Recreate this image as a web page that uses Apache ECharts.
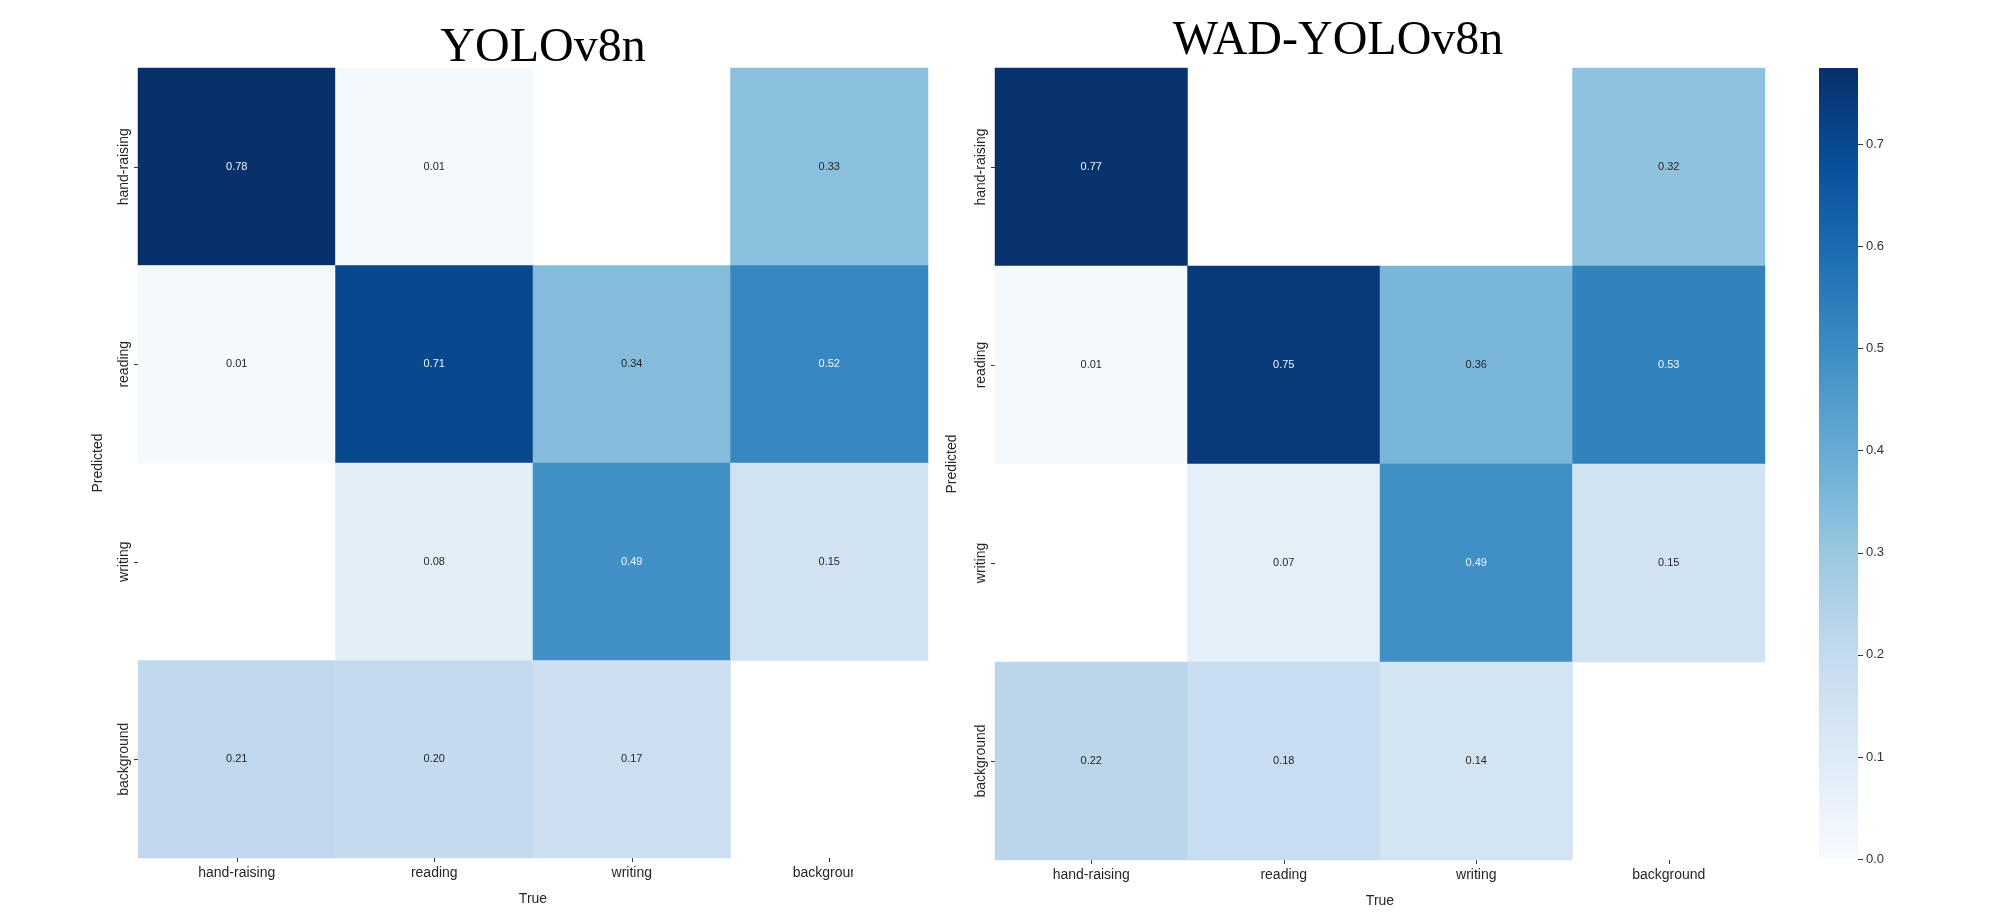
<!DOCTYPE html>
<html>
<head>
<meta charset="utf-8">
<script src="https://cdn.jsdelivr.net/npm/echarts@6/dist/echarts.min.js"></script>
<style>
html,body{margin:0;padding:0;background:#fff;}
#chart{width:2008px;height:922px;}
</style>
</head>
<body>
<div id="chart"></div>
<script>
// ---- data ----
const categories = ['hand-raising', 'reading', 'writing', 'background'];
const panelTitles = ['YOLOv8n', 'WAD-YOLOv8n'];
const xAxisName = 'True';
const yAxisName = 'Predicted';
// rows = Predicted, columns = True (null = empty cell)
const yoloMatrix = [
  [0.78, 0.01, null, 0.33],
  [0.01, 0.71, 0.34, 0.52],
  [null, 0.08, 0.49, 0.15],
  [0.21, 0.20, 0.17, null]
];
const wadMatrix = [
  [0.77, null, null, 0.32],
  [0.01, 0.75, 0.36, 0.53],
  [null, 0.07, 0.49, 0.15],
  [0.22, 0.18, 0.14, null]
];
const colorbarTicks = [0, 0.1, 0.2, 0.3, 0.4, 0.5, 0.6, 0.7];
const yoloMax = 0.78;
const wadMax = 0.775;

// ---- styling ----
const blues = ['#f7fbff','#deebf7','#c6dbef','#9ecae1','#6baed6','#4292c6','#2171b5','#08519c','#08306b'];
const FONT = "'Liberation Sans', Arial, Helvetica, sans-serif";
const SERIF = "'Liberation Serif', 'Times New Roman', serif";

function buildData(m, vmax) {
  const out = [];
  m.forEach((row, i) => row.forEach((v, j) => {
    if (v === null) return;
    out.push({
      value: [j, i, v],
      label: { color: (v / vmax > 0.55) ? '#f2f7fc' : '#262626' }
    });
  }));
  return out;
}

const CB = { left: 1819, top: 68, width: 39, height: 791 };
const grids = [
  { left: 138, top: 68, width: 790, height: 790 },
  { left: 995, top: 68, width: 770, height: 792 },
  CB
];

function xCat(gi) {
  return {
    type: 'category', gridIndex: gi, data: categories, position: 'bottom',
    axisLine: { show: false },
    axisTick: { show: true, alignWithLabel: true, length: 4, lineStyle: { color: '#333', width: 1 } },
    axisLabel: { fontFamily: FONT, fontSize: 14, color: '#262626', margin: 8 },
    splitLine: { show: false }, splitArea: { show: false },
    name: xAxisName, nameLocation: 'middle', nameGap: 34,
    nameTextStyle: { fontFamily: FONT, fontSize: 14, color: '#262626' }
  };
}
function yCat(gi, gap) {
  return {
    type: 'category', gridIndex: gi, data: categories, inverse: true,
    axisLine: { show: false },
    axisTick: { show: true, alignWithLabel: true, length: 4, lineStyle: { color: '#333', width: 1 } },
    axisLabel: { fontFamily: FONT, fontSize: 14, color: '#262626', rotate: 90, margin: 7 },
    splitLine: { show: false }, splitArea: { show: false },
    name: yAxisName, nameLocation: 'middle', nameGap: gap, nameRotate: 90,
    nameTextStyle: { fontFamily: FONT, fontSize: 14, color: '#262626' }
  };
}

const labelCommon = {
  show: true, fontFamily: FONT, fontSize: 11,
  formatter: p => p.value[2].toFixed(2)
};

const option = {
  animation: false,
  backgroundColor: '#ffffff',
  grid: grids,
  xAxis: [
    xCat(0), xCat(1),
    { type: 'value', gridIndex: 2, show: false, min: 0, max: 1,
      axisLine: { show: false, onZero: false }, axisTick: { show: false },
      axisLabel: { show: false }, splitLine: { show: false } }
  ],
  yAxis: [
    yCat(0, 33), yCat(1, 36),
    {
      type: 'value', gridIndex: 2, position: 'right', min: 0, max: wadMax,
      axisLine: { show: false, onZero: false },
      splitLine: { show: false },
      axisTick: { show: true, length: 5, customValues: colorbarTicks, lineStyle: { color: '#333' } },
      axisLabel: { fontFamily: FONT, fontSize: 13, color: '#333', margin: 8,
                   customValues: colorbarTicks, formatter: v => v.toFixed(1) }
    }
  ],
  visualMap: [
    { type: 'continuous', show: false, seriesIndex: 0, min: 0, max: yoloMax, dimension: 2,
      inRange: { color: blues } },
    { type: 'continuous', show: false, seriesIndex: 1, min: 0, max: wadMax, dimension: 2,
      inRange: { color: blues } }
  ],
  series: [
    { type: 'heatmap', xAxisIndex: 0, yAxisIndex: 0, data: buildData(yoloMatrix, yoloMax),
      label: labelCommon, emphasis: { disabled: true } },
    { type: 'heatmap', xAxisIndex: 1, yAxisIndex: 1, data: buildData(wadMatrix, wadMax),
      label: labelCommon, emphasis: { disabled: true } }
  ],
  graphic: [
    { type: 'text', x: 543, y: 48, z: 100,
      style: { text: panelTitles[0], font: '48px ' + SERIF, fill: '#000', textAlign: 'center', textVerticalAlign: 'middle' } },
    { type: 'text', x: 1338, y: 41, z: 100,
      style: { text: panelTitles[1], font: '48px ' + SERIF, fill: '#000', textAlign: 'center', textVerticalAlign: 'middle' } },
    // colour bar (same Blues ramp as the right panel's visualMap)
    { type: 'rect', z: 5, shape: { x: CB.left, y: CB.top, width: CB.width, height: CB.height },
      style: { fill: new echarts.graphic.LinearGradient(0, 1, 0, 0,
        blues.map((c, i) => ({ offset: i / (blues.length - 1), color: c }))) } },
    // crop of the left panel image edge (clips its last x label)
    { type: 'rect', z: 100, shape: { x: 853, y: 862, width: 70, height: 24 }, style: { fill: '#ffffff' } }
  ]
};

const chart = echarts.init(document.getElementById('chart'), null, { renderer: 'canvas' });
chart.setOption(option);
</script>
</body>
</html>
